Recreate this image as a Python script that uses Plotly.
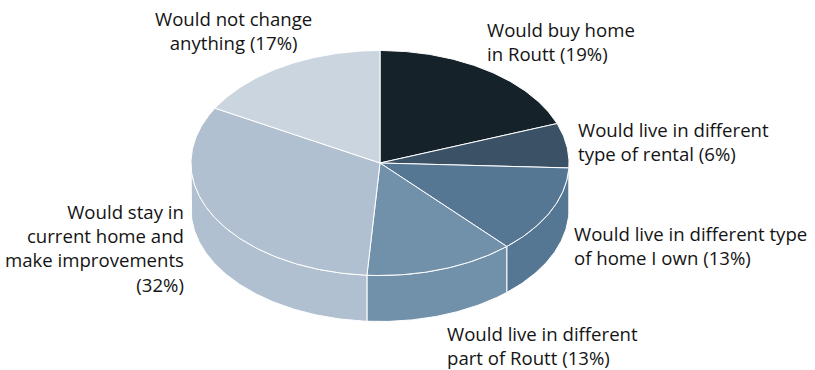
import numpy as np
import plotly.graph_objects as go

categories = ["Would buy home", "Would live in different type of rental", "Would live in different type of home I own",
              "Would live in different part of Routt", "Would stay in current home and make improvements",
              "Would not change anything"]
shares = [19.3, 6.4, 12.6, 12.8, 32.0, 16.9]
label_texts = ["Would buy home<br>in Routt (19%)", "Would live in different<br>type of rental (6%)",
               "Would live in different type<br>of home I own (13%)", "Would live in different<br>part of Routt (13%)",
               "Would stay in<br>current home and<br>make improvements<br>(32%)", "Would not change<br>anything (17%)"]
colors = ["#16222A", "#3A5166", "#567794", "#7191AB", "#B0C0D1", "#CBD5DF"]
label_x = [485, 576, 572, 445, 186, 233]
label_y = [41.5, 141.5, 245, 345, 248, 30.5]
label_anchor = ["left", "left", "left", "left", "right", "center"]

CX, CY, RX, RY, DEPTH = 380, 163, 189, 112.5, 46
FONT = "Open Sans"
FS = 18.6


def arc(a0, a1, dy=0.0):
    n = max(2, int(abs(a1 - a0) * 1.5))
    t = np.radians(np.linspace(a0, a1, n))
    return CX + RX * np.sin(t), CY - RY * np.cos(t) + dy


edges = np.concatenate([[0], np.cumsum(shares)]) / sum(shares) * 360
fig = go.Figure()


def poly(xs, ys, color):
    fig.add_trace(go.Scatter(x=np.r_[xs, xs[0]], y=np.r_[ys, ys[0]], mode="lines", fill="toself",
                             fillcolor=color, line=dict(color="white", width=1),
                             hoverinfo="skip", showlegend=False))


# walls: only the front half of the disc shows its rim
for i, c in enumerate(colors):
    a0, a1 = max(edges[i], 90), min(edges[i + 1], 270)
    if a1 > a0:
        xt, yt = arc(a0, a1)
        xb, yb = arc(a0, a1, DEPTH)
        poly(np.r_[xt, xb[::-1]], np.r_[yt, yb[::-1]], c)

# top faces
for i, c in enumerate(colors):
    xt, yt = arc(edges[i], edges[i + 1])
    poly(np.r_[CX, xt], np.r_[CY, yt], c)

for t, x, y, a in zip(label_texts, label_x, label_y, label_anchor):
    fig.add_annotation(x=x, y=y, text=t, showarrow=False, xanchor=a, yanchor="middle", align=a,
                       font=dict(family=FONT, size=FS, color="#141414"))

fig.update_layout(width=815, height=370, margin=dict(l=0, r=0, t=0, b=0), plot_bgcolor="white", paper_bgcolor="white",
                  xaxis=dict(range=[0, 815], visible=False, fixedrange=True),
                  yaxis=dict(range=[370, 0], visible=False, fixedrange=True))
fig.write_html("out.html", config={"displayModeBar": False},
               post_script="document.body.style.margin='0';")
